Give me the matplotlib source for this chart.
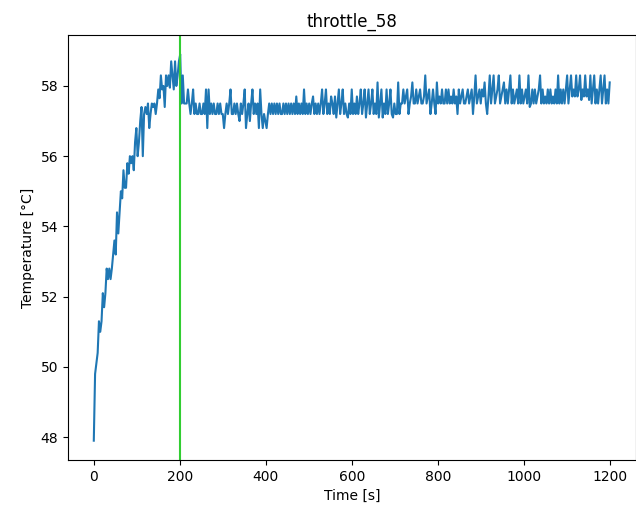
import numpy as np
import matplotlib
matplotlib.use("Agg")
import matplotlib.pyplot as plt

temp_rise = [47.9, 49.8, 50.1, 50.4, 51.3, 51.0, 51.3, 52.1, 51.7, 52.1,
             52.8, 52.5, 52.8, 52.5, 52.8, 53.2, 53.6, 53.2, 54.4, 53.8,
             54.4, 55.0, 54.8, 55.6, 55.1, 55.1, 55.8, 55.5, 56.0, 55.8,
             56.0, 55.6, 56.4, 56.8, 56.0, 56.4, 57.0, 57.4, 56.0, 57.2,
             57.4, 57.2, 57.5, 56.8, 57.2, 57.5, 57.4, 57.5, 57.2, 57.5,
             57.9, 57.65, 58.3, 57.9, 58.0, 57.4, 58.3, 58.0, 58.3, 57.95,
             58.7, 58.3, 57.9, 58.7, 58.0, 58.3, 58.7]

temp_hold_a = [58.9, 57.5, 58.3, 57.5, 57.5, 57.5, 57.9, 57.5, 57.2, 57.5,
               57.9, 57.2, 57.5, 57.2, 57.2, 57.5, 57.2, 57.2, 57.5, 57.2,
               57.9, 56.8, 57.9, 57.2, 57.5, 57.2, 57.5, 57.2, 57.2, 57.5,
               57.2, 57.5, 57.2, 57.2, 56.8, 57.2, 57.5, 57.2, 57.5, 57.9,
               57.2, 57.2, 57.5, 57.2, 57.5, 57.2, 57.0, 57.5, 57.2, 57.5,
               57.9, 56.8, 57.2, 57.5, 57.0, 57.5, 57.9, 57.2, 57.5, 57.2,
               57.5, 56.8, 57.9, 57.2, 56.8, 57.2, 57.0, 56.8, 57.2, 57.5,
               57.2, 57.5, 57.2, 57.5, 57.2, 57.5, 57.2, 57.5, 57.2, 57.2,
               57.5, 57.2, 57.5, 57.2]

temp_hold_b = [57.5, 57.2, 57.5, 57.2, 57.5, 57.2, 57.7, 57.2, 57.5, 57.2,
               57.5, 57.2, 57.9, 57.2, 57.5, 57.2, 57.5, 57.2, 57.5, 57.7,
               57.2, 57.5, 57.2, 57.5, 57.2, 57.5, 57.9, 57.2, 57.5, 57.9,
               57.2, 57.5, 57.2, 57.7, 57.5, 57.2, 57.7, 57.1, 57.5, 57.9,
               57.2, 57.5, 57.9, 57.2, 57.5, 57.2, 57.1, 57.5, 57.2, 57.9,
               57.2, 57.5, 57.2, 57.7, 57.2, 57.5, 57.9, 57.2, 57.5, 57.9,
               57.1, 57.5, 57.9, 57.2, 57.5, 57.9, 57.2, 57.5, 57.2, 58.1,
               57.1, 57.5, 57.9, 57.1, 57.5, 57.2, 57.9, 57.2, 57.5, 57.9,
               57.2, 57.1, 57.5]

temp_hold_c = [57.2, 57.2, 58.1, 57.2, 57.5, 57.5, 57.9, 57.5, 57.7, 57.9,
               57.2, 57.5, 57.7, 58.1, 57.5, 57.5, 57.9, 57.5, 57.7, 57.9,
               57.5, 57.5, 57.7, 58.3, 57.5, 57.7, 57.9, 57.2, 57.5, 57.9,
               57.5, 57.2, 58.1, 57.5, 57.7, 57.5, 57.9, 57.5, 57.5, 57.9,
               57.5, 57.9, 57.5, 57.7, 57.5, 57.9, 57.5, 57.7, 57.2, 57.9,
               57.5, 57.7, 57.9, 57.5, 57.5, 57.7, 57.9, 57.5, 57.7, 57.9,
               57.2, 57.7, 58.3, 57.5, 57.7, 57.9, 57.5, 57.9, 57.7, 58.1,
               57.5, 57.2, 57.7, 58.3, 57.5, 57.9, 58.3, 57.5, 57.7, 57.9,
               58.3, 57.5, 57.7, 57.9, 58.1, 57.5]

temp_hold_d = [57.9, 57.5, 57.9, 58.3, 57.5, 57.9, 57.5, 57.7, 57.9, 57.5,
               58.3, 57.5, 57.9, 57.5, 57.7, 57.9, 57.5, 58.3, 57.4, 57.5,
               57.9, 57.5, 57.9, 57.5, 57.7, 57.9, 58.3, 57.5, 57.9, 57.5,
               57.7, 57.5, 57.9, 57.5, 57.9, 57.5, 57.7, 57.5, 57.9, 57.5,
               58.3, 57.5, 57.9, 57.5, 57.9, 57.5, 57.9, 58.3, 57.5, 57.9,
               58.3, 57.7, 57.9, 57.7, 58.3, 57.7, 57.9, 58.3, 57.6, 57.9,
               57.7, 58.3, 57.7, 57.9, 57.6, 58.3, 57.5, 57.9, 58.3, 57.5,
               57.9, 57.5, 57.9, 58.3, 57.5, 57.9, 58.3, 57.5, 57.9, 57.5,
               58.1]

dt = 3
marker_time = 200
title = "throttle_58"

temp = np.array(temp_rise + temp_hold_a + temp_hold_b + temp_hold_c + temp_hold_d)
time = dt * np.arange(len(temp))

fig = plt.figure(figsize=(6.36, 5.14), dpi=100)
ax = fig.add_axes([68 / 636, 54 / 514, 567.5 / 636, 425 / 514])
ax.plot(time, temp, color="tab:blue", linewidth=1.5)
ax.axvline(marker_time, color="limegreen", linewidth=1.5)

ax.set_title(title)
ax.set_xlabel("Time [s]")
ax.set_ylabel("Temperature [°C]")

fig.savefig("out.png", dpi=100)
